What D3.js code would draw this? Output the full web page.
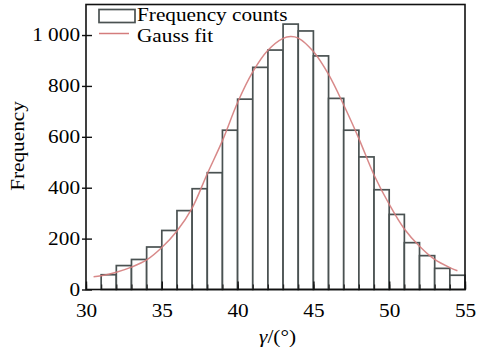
<!DOCTYPE html>
<html>
<head>
<meta charset="utf-8">
<script src="https://cdn.jsdelivr.net/npm/d3@7"></script>
<style>
  body { margin: 0; background: #fff; }
  text { font-family: "Liberation Serif", "Times New Roman", serif; fill: #000; }
</style>
</head>
<body>
<div id="chart"></div>
<script>
// Histogram bins (left edge, right edge) and counts
var binStart = [31, 32, 33, 34, 35, 36, 37, 38, 39, 40, 41, 42, 43, 44, 45, 46, 47, 48, 49, 50, 51, 52, 53, 54];
var binEnd   = [32, 33, 34, 35, 36, 37, 38, 39, 40, 41, 42, 43, 44, 45, 46, 47, 48, 49, 50, 51, 52, 53, 54, 55];
var counts   = [58, 94, 118, 167, 232, 310, 396, 459, 626, 748, 873, 941, 1043, 1016, 918, 751, 626, 521, 392, 295, 184, 133, 83, 56];

// Gauss fit curve
var fitX = [30.5, 31, 32, 33, 34, 35, 36, 37, 38, 39, 40, 41, 42, 43, 43.5, 44, 45, 46, 47, 48, 49, 50, 51, 52, 53, 54, 54.5];
var fitY = [50, 54, 68, 88, 116, 165, 230, 320, 455, 585, 735, 855, 940, 987, 994, 988, 935, 845, 725, 593, 450, 335, 238, 170, 118, 86, 74];

// Axis ticks
var xTicks = [30, 35, 40, 45, 50, 55];
var xMinorTicks = d3.range(30, 56);
var yTicks = [0, 200, 400, 600, 800, 1000];
var yTickLabels = ["0", "200", "400", "600", "800", "1 000"];

var legendLabels = ["Frequency counts", "Gauss fit"];

var svgWidth = 481;
var svgHeight = 356;
var margin = { top: 4.5, right: 16, bottom: 66.5, left: 86 };
var chartWidth = svgWidth - margin.left - margin.right;
var chartHeight = svgHeight - margin.top - margin.bottom;

var fontSize = 18.5;
var stretch = 1.15;
var barColor = "#4a5252";
var fitColor = "#d47c7c";

var svg = d3.select("#chart")
  .append("svg")
  .attr("width", svgWidth)
  .attr("height", svgHeight);

var chartGroup = svg.append("g")
  .attr("transform", `translate(${margin.left}, ${margin.top})`);

var xScale = d3.scaleLinear().domain([30, 55]).range([0, chartWidth]);
var yScale = d3.scaleLinear().domain([0, 1120]).range([chartHeight, 0]);

// bars
chartGroup.selectAll(".bar")
  .data(counts)
  .enter()
  .append("rect")
  .attr("class", "bar")
  .attr("x", (d, i) => xScale(binStart[i]))
  .attr("width", (d, i) => xScale(binEnd[i]) - xScale(binStart[i]))
  .attr("y", d => yScale(d))
  .attr("height", d => chartHeight - yScale(d))
  .attr("fill", "#fff")
  .attr("stroke", barColor)
  .attr("stroke-width", 1.7);

// gauss fit line
var fitLine = d3.line()
  .x(d => xScale(d[0]))
  .y(d => yScale(d[1]))
  .curve(d3.curveCatmullRom);

chartGroup.append("path")
  .datum(fitX.map((x, i) => [x, fitY[i]]))
  .attr("d", fitLine)
  .attr("fill", "none")
  .attr("stroke", fitColor)
  .attr("stroke-opacity", 0.9)
  .attr("stroke-width", 1.5);

// bottom axis: labels, then inward ticks
var bottomAxis = d3.axisBottom(xScale)
  .tickValues(xTicks)
  .tickSize(0)
  .tickPadding(14.4)
  .tickFormat(d3.format("d"));

var xAxisG = chartGroup.append("g")
  .attr("transform", `translate(0, ${chartHeight})`)
  .call(bottomAxis);
xAxisG.select(".domain").remove();
xAxisG.selectAll("text")
  .attr("font-size", fontSize)
  .attr("font-family", "Liberation Serif")
  .attr("fill", "#000")
  .attr("transform", `scale(${stretch},1)`);

var minorG = chartGroup.append("g")
  .attr("transform", `translate(0, ${chartHeight})`)
  .call(d3.axisTop(xScale).tickValues(xMinorTicks).tickSize(5).tickFormat(""));
minorG.select(".domain").remove();
minorG.selectAll("line").attr("stroke", "#222").attr("stroke-width", 1.2);

var majorG = chartGroup.append("g")
  .attr("transform", `translate(0, ${chartHeight})`)
  .call(d3.axisTop(xScale).tickValues(xTicks).tickSize(8).tickFormat(""));
majorG.select(".domain").remove();
majorG.selectAll("line").attr("stroke", "#111").attr("stroke-width", 1.4);

// left axis
var leftAxis = d3.axisLeft(yScale)
  .tickValues(yTicks)
  .tickSize(4)
  .tickPadding(2)
  .tickFormat((d, i) => yTickLabels[i]);

var yAxisG = chartGroup.append("g").call(leftAxis);
yAxisG.select(".domain").remove();
yAxisG.selectAll("line").attr("stroke", "#111").attr("stroke-width", 1.4);
yAxisG.selectAll(".tick").append("line")
  .attr("x1", 0).attr("x2", 6)
  .attr("stroke", "#111").attr("stroke-width", 1.4);
yAxisG.selectAll("text")
  .attr("font-size", fontSize)
  .attr("font-family", "Liberation Serif")
  .attr("fill", "#000")
  .attr("x", -6 / stretch)
  .attr("transform", `scale(${stretch},1)`);

// frame
chartGroup.append("rect")
  .attr("width", chartWidth)
  .attr("height", chartHeight)
  .attr("fill", "none")
  .attr("stroke", "#111")
  .attr("stroke-width", 1.6);

// axis titles
svg.append("text")
  .attr("transform", `translate(24, 146) rotate(-90) scale(${stretch},1)`)
  .attr("text-anchor", "middle")
  .attr("font-size", fontSize)
  .text("Frequency");

var xTitle = svg.append("text")
  .attr("transform", `translate(${margin.left + chartWidth / 2 + 2}, 343) scale(${stretch},1)`)
  .attr("text-anchor", "middle")
  .attr("font-size", fontSize);
xTitle.append("tspan").attr("font-style", "italic").text("γ");
xTitle.append("tspan").text("/(°)");

// legend
var legend = svg.append("g");
legend.append("rect")
  .attr("x", 99).attr("y", 9.5)
  .attr("width", 36).attr("height", 13)
  .attr("fill", "#fff")
  .attr("stroke", barColor)
  .attr("stroke-width", 1.7);
legend.append("line")
  .attr("x1", 99).attr("x2", 129)
  .attr("y1", 33.5).attr("y2", 33.5)
  .attr("stroke", fitColor)
  .attr("stroke-width", 1.5);
legend.selectAll(".legend-text")
  .data(legendLabels)
  .enter()
  .append("text")
  .attr("class", "legend-text")
  .attr("transform", (d, i) => `translate(137, ${21 + i * 21}) scale(${stretch},1)`)
  .attr("font-size", fontSize)
  .text(d => d);
</script>
</body>
</html>
